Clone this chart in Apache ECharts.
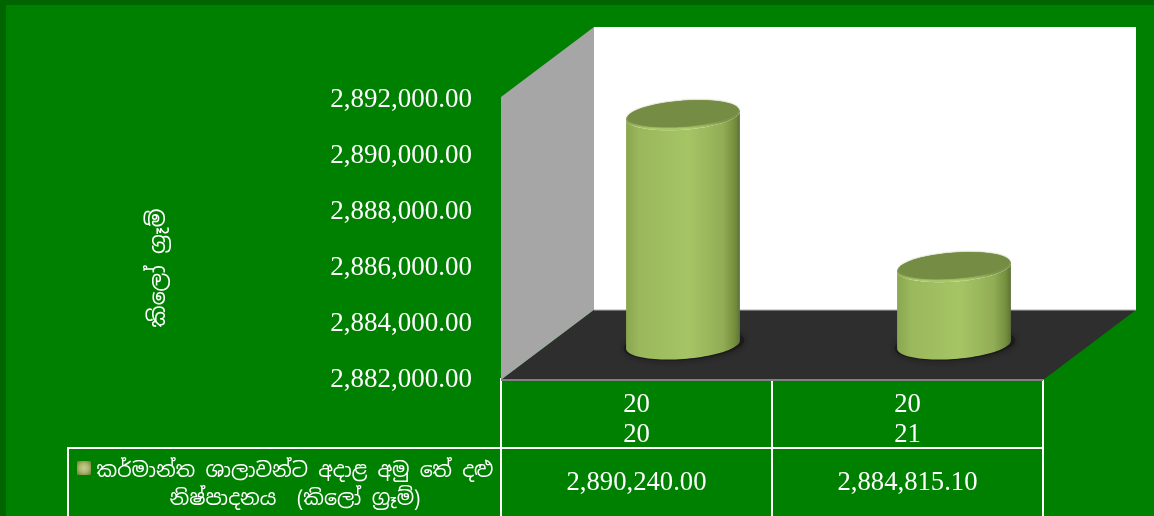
<!DOCTYPE html>
<html>
<head>
<meta charset="utf-8">
<title>chart</title>
<script src="https://cdn.jsdelivr.net/npm/echarts@6/dist/echarts.min.js"></script>
<style>
  html, body { margin: 0; padding: 0; width: 1154px; height: 516px; overflow: hidden; }
  body { background: #008000; box-sizing: border-box; border-left: 6px solid #006400; border-top: 5px solid #006400; }
  #main { position: absolute; left: 0; top: 0; width: 1154px; height: 516px; }
</style>
</head>
<body>
<div id="main"></div>
<script>
// data
var categories = ['2020', '2021'];
var production = [2890240.00, 2884815.10];
var yTicks = { min: 2882000, max: 2892000, interval: 2000 };
var yTitle = 'කිලෝ ග්‍රෑම්';
var rowTitle = 'කර්මාන්ත ශාලාවන්ට අදාළ අමු තේ දළු\nනිෂ්පාදනය  (කිලෝ ග්‍රෑම්)';

var SERIF = '"Liberation Serif", "Times New Roman", Times, serif';
var SINHALA = '"Noto Sans Sinhala", "Iskoola Pota", "Liberation Serif", serif';
var grad = echarts.graphic.LinearGradient;

function money(v) {
  return v.toFixed(2).replace(/\B(?=(\d{3})+(?!\d))/g, ',');
}

// tilted ellipse, t from a to b
function arc(cx, cy, rx, h, tilt, a, b) {
  var pts = [];
  for (var i = 0; i <= 48; i++) {
    var t = a + (b - a) * i / 48;
    pts.push([cx + rx * Math.cos(t), cy - tilt * Math.cos(t) + h * Math.sin(t)]);
  }
  return pts;
}

// back wall, side wall and floor of the 3d box
function renderBox(params) {
  var c = params.coordSys;
  var dx = 93, dy = -70;
  var l = c.x, r = c.x + c.width, t = c.y - 1, b = c.y + c.height + 2;
  return {
    type: 'group',
    children: [
      { type: 'rect', shape: { x: l + dx, y: t + dy, width: c.width, height: b - t },
        style: { fill: '#ffffff' } },
      { type: 'polygon', shape: { points: [[l, t], [l + dx, t + dy], [l + dx, b + dy], [l, b]] },
        style: { fill: '#a6a6a6' } },
      { type: 'polygon', shape: { points: [[l, b], [l + dx, b + dy], [r + dx, b + dy], [r, b]] },
        style: { fill: '#2e2e2e' } },
      { type: 'line', shape: { x1: l + dx, y1: b + dy, x2: r + dx, y2: b + dy },
        style: { stroke: '#b0b0b0', lineWidth: 1 } },
      { type: 'line', shape: { x1: l, y1: b, x2: r, y2: b },
        style: { stroke: '#808080', lineWidth: 2 } }
    ]
  };
}

function renderCylinder(params, api) {
  var i = api.value(0);
  var front = api.coord([i, api.value(1)]);
  var base = api.coord([i, yTicks.min]);
  var rx = api.size([1, 0])[0] * 0.21;
  var cx = front[0] + 46.5;
  var top = front[1] - 32;
  var bot = base[1] - 33.5;
  var h = 14.5, tilt = 4;

  var body = arc(cx, bot, rx, h, tilt, 0, Math.PI)
    .concat(arc(cx, top, rx, h, tilt, Math.PI, 0));

  return {
    type: 'group',
    children: [
      { type: 'polygon', shape: { points: arc(cx + 1, bot, rx * 1.06, h + 1, tilt, 0, Math.PI * 2) },
        style: { fill: '#1b1b1b', shadowColor: '#1b1b1b', shadowBlur: 9 } },
      { type: 'polygon', shape: { points: body },
        style: { fill: new grad(0, 0, 1, 0, [
          { offset: 0, color: '#8aa650' },
          { offset: 0.12, color: '#9ab85c' },
          { offset: 0.55, color: '#a5c565' },
          { offset: 0.85, color: '#92ad55' },
          { offset: 0.95, color: '#76903f' },
          { offset: 1, color: '#5e7337' }
        ]) } },
      { type: 'polygon', shape: { points: arc(cx, top, rx, h, tilt, 0, Math.PI * 2) },
        style: { fill: new grad(0, 0, 0, 1, [
          { offset: 0, color: '#758c45' },
          { offset: 0.7, color: '#7e9649' },
          { offset: 0.95, color: '#aecf6e' },
          { offset: 1, color: '#a0bf60' }
        ]) } },
      { type: 'polygon', shape: { points: arc(cx, top - 1.5, rx * 0.97, h - 1.5, tilt, 0, Math.PI * 2) },
        style: { fill: '#758c45', shadowColor: '#758c45', shadowBlur: 2 } },
      // value row of the table under this category
      { type: 'text', x: front[0], y: 483,
        style: { text: money(api.value(1)), fill: '#ffffff', font: '26.67px ' + SERIF,
          align: 'center', verticalAlign: 'middle' } }
    ]
  };
}

var chart = echarts.init(document.getElementById('main'), null, { renderer: 'canvas' });

chart.setOption({
  animation: false,
  backgroundColor: 'transparent',
  grid: { left: 501, right: 111, top: 98, bottom: 138 },
  xAxis: {
    type: 'category',
    data: categories,
    axisLine: { show: false },
    axisTick: { show: true, length: 138, lineStyle: { color: '#ffffff', width: 2 } },
    axisLabel: {
      margin: 12,
      color: '#ffffff',
      fontFamily: SERIF,
      fontSize: 26.67,
      lineHeight: 30,
      formatter: function (v) { return v.slice(0, 2) + '\n' + v.slice(2); }
    }
  },
  yAxis: {
    type: 'value',
    min: yTicks.min,
    max: yTicks.max,
    interval: yTicks.interval,
    axisLine: { show: false },
    axisTick: { show: false },
    splitLine: { show: false },
    axisLabel: {
      margin: 29,
      color: '#ffffff',
      fontFamily: SERIF,
      fontSize: 27,
      verticalAlign: 'top',
      lineHeight: 4, // pushes the text about 2px under the tick, as in the original
      formatter: money
    }
  },
  graphic: [
    { type: 'text', x: 159, y: 268, rotation: Math.PI / 2,
      style: { text: yTitle, fill: '#ffffff', font: '22px ' + SINHALA, align: 'center', verticalAlign: 'middle' } },
    { type: 'line', shape: { x1: 67, y1: 448, x2: 1044, y2: 448 }, style: { stroke: '#ffffff', lineWidth: 2 } },
    { type: 'line', shape: { x1: 68, y1: 447, x2: 68, y2: 516 }, style: { stroke: '#ffffff', lineWidth: 2 } },
    { type: 'rect', shape: { x: 77, y: 461, width: 14, height: 14 },
      style: { fill: new echarts.graphic.RadialGradient(0.5, 0.5, 0.7, [
        { offset: 0, color: '#c8cf90' },
        { offset: 0.5, color: '#a9b56c' },
        { offset: 1, color: '#67763a' }
      ]) } },
    { type: 'text', x: 295, y: 485,
      style: { text: rowTitle, fill: '#ffffff', font: '20.5px ' + SINHALA, lineHeight: 28,
        align: 'center', verticalAlign: 'middle' } }
  ],
  series: [
    { type: 'custom', name: 'box', silent: true, z: 1, data: [[0, yTicks.min]], renderItem: renderBox },
    {
      type: 'custom',
      name: rowTitle,
      z: 3,
      data: categories.map(function (c, i) { return [i, production[i]]; }),
      renderItem: renderCylinder
    }
  ]
});
</script>
</body>
</html>
